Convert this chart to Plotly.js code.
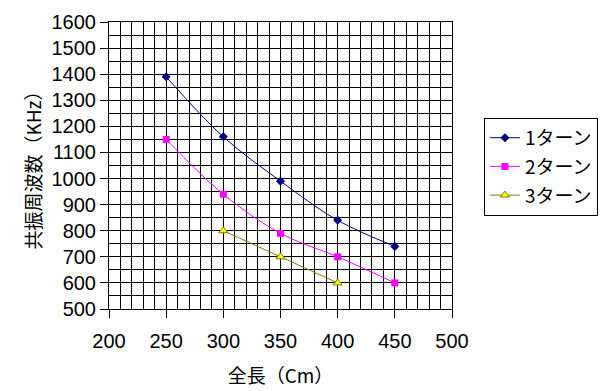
<!DOCTYPE html>
<html><head><meta charset="utf-8">
<script src="https://cdn.plot.ly/plotly-3.0.1.min.js"></script>
<style>body{margin:0;background:#fff}</style>
</head><body><div id="chart" style="width:609px;height:391px"></div>
<script>
const lengths = [250, 300, 350, 400, 450];
const turn1 = [1390, 1160, 990, 840, 740];
const turn2 = [1150, 940, 790, 700, 600];
const lengths3 = [300, 350, 400];
const turn3 = [800, 700, 600];
const seriesNames = ['1ターン', '2ターン', '3ターン'];

const jp = '"Noto Sans CJK JP", sans-serif';
const num = '"Liberation Sans", Arial, sans-serif';

const traces = [
  {x: lengths, y: turn1, name: seriesNames[0], legendgroup: 'a', mode: 'lines+markers',
   line: {color: '#000080', width: 1, shape: 'spline'},
   marker: {symbol: 'diamond', size: 7, color: '#000080'}},
  {x: lengths, y: turn2, name: seriesNames[1], legendgroup: 'b', mode: 'lines+markers',
   line: {color: '#FF00FF', width: 1, shape: 'spline'},
   marker: {symbol: 'square', size: 7, color: '#FF00FF'}},
  {x: lengths3, y: turn3, name: seriesNames[2], legendgroup: 'c', mode: 'lines+markers',
   line: {color: '#808000', width: 1, shape: 'spline'},
   marker: {symbol: 'triangle-up', size: 8, color: '#FFFF00', line: {color: '#808000', width: 1}}}
];

const layout = {
  width: 609, height: 391,
  margin: {l: 109, r: 156, t: 22, b: 82},
  paper_bgcolor: '#fff', plot_bgcolor: '#fff',
  showlegend: true,
  xaxis: {
    range: [200, 500], tick0: 200, dtick: 50,
    showgrid: true, gridcolor: '#000', gridwidth: 1, zeroline: false,
    ticks: 'outside', ticklen: 8, tickcolor: '#000', tickwidth: 1,
    showline: true, linecolor: '#000', linewidth: 1, mirror: true,
    ticklabelstandoff: 6,
    tickfont: {family: num, size: 20, color: '#000'},
    minor: {tick0: 200, dtick: 10, showgrid: true, gridcolor: '#000', gridwidth: 1, ticks: ''},
    title: {text: '全長（Cm）', font: {family: jp, size: 19, color: '#000'}, standoff: 18}
  },
  yaxis: {
    range: [500, 1600], tick0: 500, dtick: 100,
    showgrid: true, gridcolor: '#000', gridwidth: 1, zeroline: false,
    ticks: 'outside', ticklen: 8, tickcolor: '#000', tickwidth: 1,
    showline: true, linecolor: '#000', linewidth: 1, mirror: true,
    tickfont: {family: num, size: 20, color: '#000'},
    minor: {tick0: 500, dtick: 50, showgrid: true, gridcolor: '#000', gridwidth: 1, ticks: ''},
    title: {text: '共振周波数（KHz）', font: {family: jp, size: 19, color: '#000'}, standoff: 4}
  },
  legend: {
    x: 1.09, xanchor: 'left', y: 0.666, yanchor: 'top',
    bordercolor: '#000', borderwidth: 1, bgcolor: '#fff',
    font: {family: jp, size: 19, color: '#000'},
    itemwidth: 30, traceorder: 'grouped', tracegroupgap: 1
  }
};

Plotly.newPlot('chart', traces, layout, {displayModeBar: false, staticPlot: true});
</script></body></html>
